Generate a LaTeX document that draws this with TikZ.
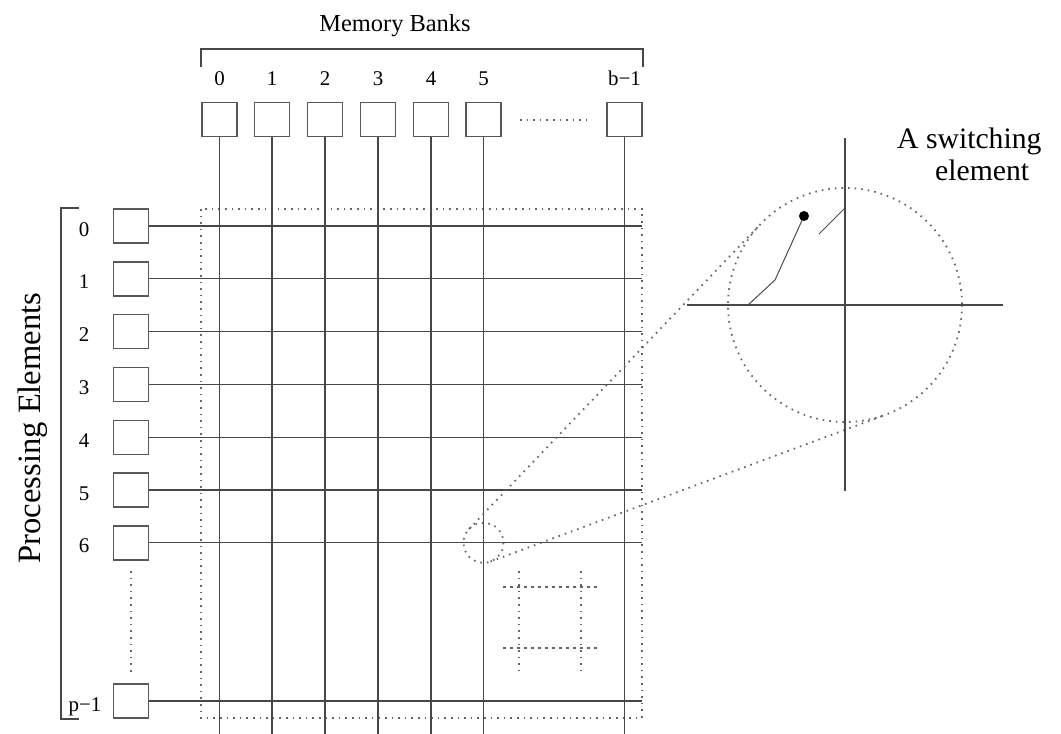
\documentclass[tikz,border=0pt]{standalone}
\usepackage{fontspec}
\setmainfont{Liberation Serif}
\usetikzlibrary{calc}
\begin{document}
\begin{tikzpicture}[x=1bp,y=-1bp,
  wire/.style={draw=black!72, line width=1.3bp},
  thinwire/.style={draw=black!70, line width=1bp},
  box/.style={draw=black!65, line width=1.4bp, minimum width=35bp, minimum height=34bp, inner sep=0pt},
  dotline/.style={draw=black!60, line width=1.8bp, dash pattern=on 1.6bp off 5bp},
  dashline/.style={draw=black!60, line width=1.5bp, dash pattern=on 3bp off 4bp},
  lbl/.style={font=\fontsize{21}{24}\selectfont, inner sep=0pt, anchor=base}
]
\useasboundingbox (0,0) rectangle (1061,734);
\coordinate (bot) at (0,734);
\coordinate (rend) at (642,0);

% memory banks
\foreach \i/\x in {0/219.5,1/272,2/325,3/378,4/431,5/483.5}{
  \node[box] (mb\i) at (\x,119.5) {};
  \node[lbl] (mbl\i) at (\x,86) {\i};
}
\node[box] (mbL) at (624.5,119.5) {};
\node[lbl] (mblL) at (624.5,86) {b−1};
\node[font=\fontsize{24.5}{28}\selectfont, inner sep=0pt, anchor=base] (mbt) at (395,32) {Memory Banks};
\draw[wire] (201,67) -- (201,49) -- (643,49) -- (643,67);
\draw[dotline] (520,120) -- (587,120);

% processing elements
\foreach \i in {0,...,6}{
  \pgfmathsetmacro\yy{226+52.8*\i}
  \node[box] (pe\i) at (131,\yy) {};
  \node[lbl] (pel\i) at (84,{\yy+10}) {\i};
}
\node[box] (peL) at (131,701) {};
\node[lbl] (pelL) at (85,711) {p−1};
\draw[wire] (79,208) -- (61,208) -- (61,719) -- (79,719);
\node[rotate=90, anchor=base, inner sep=0pt, font=\fontsize{32.7}{36}\selectfont] (pet) at (40,428) {Processing Elements};
\draw[dotline] (131,571) -- (131,672);

% crossbar
\draw[dotline] (201,209) rectangle (642,718);
\foreach \n in {mb0,mb1,mb2,mb3,mb4,mb5,mbL}
  \draw[wire] (\n.south) -- (\n.south |- bot);
\foreach \n in {pe0,pe1,pe2,pe3,pe4,pe5,pe6,peL}
  \draw[wire] (\n.east) -- (\n.east -| rend);

% dotted square
\draw[dotline] (519,571) -- (519,671);
\draw[dotline] (581,571) -- (581,671);
\draw[dashline] (503,587) -- (597,587);
\draw[dashline] (503,648) -- (597,648);

% zoom
\coordinate (sc) at (483.5,542.8);
\coordinate (bc) at (845,305);
\draw[dotline] (sc) circle[radius=20];
\draw[dotline] (bc) circle[radius=117];
\draw[dotline] ($(sc)+(-136.4:20)$) -- ($(bc)+(-136.4:117)$);
\draw[dotline] ($(sc)+(69.6:20)$) -- ($(bc)+(69.6:117)$);

% switching element
\draw[wire] (845,138) -- (845,491);
\draw[wire] (687,305) -- (1003,305);
\draw[thinwire] (748,305) -- (775,280) -- (804,216);
\fill[black] (804,216) circle[radius=5];
\draw[thinwire] (819,234) -- (845,208);
\node[font=\fontsize{29.8}{32}\selectfont, inner sep=0pt, anchor=base west] (sw1) at (897,149) {A switching};
\node[font=\fontsize{29.8}{32}\selectfont, inner sep=0pt, anchor=base west] (sw2) at (935,181) {element};
\end{tikzpicture}
\end{document}
